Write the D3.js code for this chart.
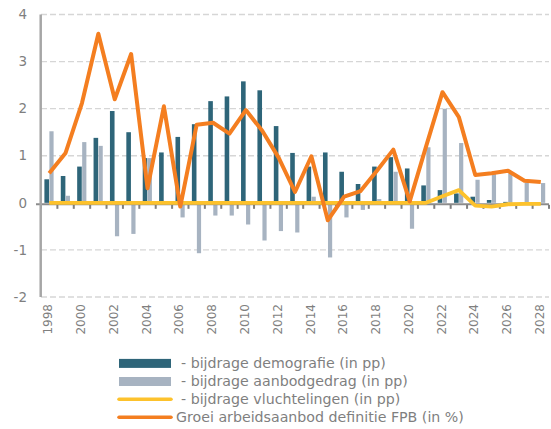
<!DOCTYPE html>
<html><head><meta charset="utf-8">
<script src="https://cdn.jsdelivr.net/npm/d3@7"></script>
<style>
html,body{margin:0;padding:0;background:#fff;}
svg{display:block;font-family:"DejaVu Sans",sans-serif;}
</style></head>
<body><svg id="c" width="551" height="429"></svg>
<script>
const years = d3.range(1998, 2029);
const xTickLabels = years.filter(y => (y - 1998) % 2 === 0).map(String);
const yTicks = [4, 3, 2, 1, 0, -1, -2];
const demografie = [0.50,0.57,0.77,1.38,1.95,1.50,0.95,1.07,1.40,1.67,2.16,2.26,2.58,2.39,1.63,1.06,0.77,1.07,0.66,0.40,0.77,0.97,0.73,0.37,0.27,0.20,0.13,0.06,0.02,0.01,0.01];
const aanbodgedrag = [1.52,0.15,1.29,1.21,-0.71,-0.66,0.95,0.0,-0.31,-1.07,-0.27,-0.27,-0.46,-0.80,-0.60,-0.63,0.13,-1.16,-0.31,-0.15,0.08,0.66,-0.55,1.18,2.00,1.27,0.49,0.61,0.63,0.43,0.42];
const vluchtelingen = [0,0,0,0,0,0,0,0,0,0,0,0,0,0,0,0,0,0,0,0,0,0,0,0,0.14,0.27,-0.06,-0.08,-0.03,-0.02,-0.02];
const groei = [0.63,1.06,2.12,3.59,2.20,3.16,0.31,2.05,-0.08,1.66,1.70,1.47,1.97,1.53,0.96,0.23,0.99,-0.37,0.13,0.25,0.68,1.13,0.03,1.20,2.35,1.82,0.59,0.63,0.68,0.47,0.44];
const legendLabels = ["- bijdrage demografie (in pp)","- bijdrage aanbodgedrag (in pp)","- bijdrage vluchtelingen (in pp)","Groei arbeidsaanbod definitie FPB (in %)"];

const C = {dark:"#2e6579", light:"#a7b3c1", yellow:"#fdc22c", orange:"#f47e20", grid:"#d6d6d6", text:"#7f7f7f", axis:"#a6a6a6"};

const svg = d3.select("#c");
const x = d3.scaleBand().domain(years).range([41, 549]).padding(0);
const y = d3.scaleLinear().domain([-2, 4]).range([297, 14.5]);
const cx = yr => x(yr) + x.bandwidth() / 2;

// gridlines
svg.append("g").selectAll("line").data(yTicks.filter(v => v !== 0)).join("line")
  .attr("x1", 41).attr("x2", 549).attr("y1", d => y(d)).attr("y2", d => y(d))
  .attr("stroke", C.grid).attr("stroke-width", 1.4).attr("stroke-dasharray", "6,3");

// bars
svg.append("g").selectAll("rect").data(years).join("rect")
  .attr("x", d => cx(d) - 4.8).attr("width", 4.6)
  .attr("y", (d, i) => y(Math.max(0, demografie[i])))
  .attr("height", (d, i) => Math.abs(y(demografie[i]) - y(0)))
  .attr("fill", C.dark);
svg.append("g").selectAll("rect").data(years).join("rect")
  .attr("x", d => cx(d) + 0.2).attr("width", 4.2)
  .attr("y", (d, i) => y(Math.max(0, aanbodgedrag[i])))
  .attr("height", (d, i) => Math.abs(y(aanbodgedrag[i]) - y(0)))
  .attr("fill", C.light);

// x axis line + ticks
const y0 = y(0);
svg.append("line").attr("x1", 36).attr("x2", 549).attr("y1", y0 + 1.5).attr("y2", y0 + 1.5)
  .attr("stroke", "#8c8c8c").attr("stroke-width", 2);
svg.append("g").selectAll("rect").data(years.concat([2029])).join("rect")
  .attr("x", d => (d === 2029 ? 549 : x(d)) - 1).attr("width", 2)
  .attr("y", y0 + 2).attr("height", 4).attr("fill", "#7f7f7f");

// y axis line
svg.append("line").attr("x1", 40.7).attr("x2", 40.7).attr("y1", y(4)).attr("y2", y(-2))
  .attr("stroke", C.axis).attr("stroke-width", 2.5);

// y labels
svg.append("g").selectAll("text").data(yTicks).join("text")
  .attr("x", 27).attr("y", d => y(d)).attr("dy", "0.35em")
  .attr("text-anchor", "end").attr("font-size", 13.5).attr("fill", C.text)
  .text(d => String(d));

// x labels
svg.append("g").selectAll("text").data(xTickLabels).join("text")
  .attr("transform", d => `translate(${cx(+d) - 1},304) rotate(-90)`)
  .attr("dy", "0.35em").attr("text-anchor", "end").attr("font-size", 12).attr("fill", C.text)
  .text(d => d);

// lines
const line = d3.line().x((d, i) => cx(years[i])).y(d => y(d));
svg.append("path").datum(vluchtelingen).attr("d", line).attr("fill", "none")
  .attr("stroke", C.yellow).attr("stroke-width", 3.8).attr("stroke-linejoin", "round");
svg.append("path").datum(groei).attr("d", line).attr("fill", "none")
  .attr("stroke", C.orange).attr("stroke-width", 4).attr("stroke-linejoin", "round");

// legend
const lg = svg.append("g");
const rows = [363.4, 381.5, 399.2, 417.3];
lg.append("rect").attr("x", 119).attr("y", rows[0] - 4.5).attr("width", 52).attr("height", 9).attr("fill", C.dark);
lg.append("rect").attr("x", 119).attr("y", rows[1] - 4.5).attr("width", 52).attr("height", 9).attr("fill", C.light);
lg.append("line").attr("x1", 119).attr("x2", 171).attr("y1", rows[2]).attr("y2", rows[2])
  .attr("stroke", C.yellow).attr("stroke-width", 3.5).attr("stroke-linecap", "round");
lg.append("line").attr("x1", 119).attr("x2", 171).attr("y1", rows[3]).attr("y2", rows[3])
  .attr("stroke", C.orange).attr("stroke-width", 3.5).attr("stroke-linecap", "round");
lg.selectAll("text").data(legendLabels).join("text")
  .attr("x", (d, i) => i === 3 ? 176 : 181).attr("y", (d, i) => rows[i]).attr("dy", "0.35em")
  .attr("font-size", 14.2).attr("fill", C.text).text(d => d);
</script></body></html>
